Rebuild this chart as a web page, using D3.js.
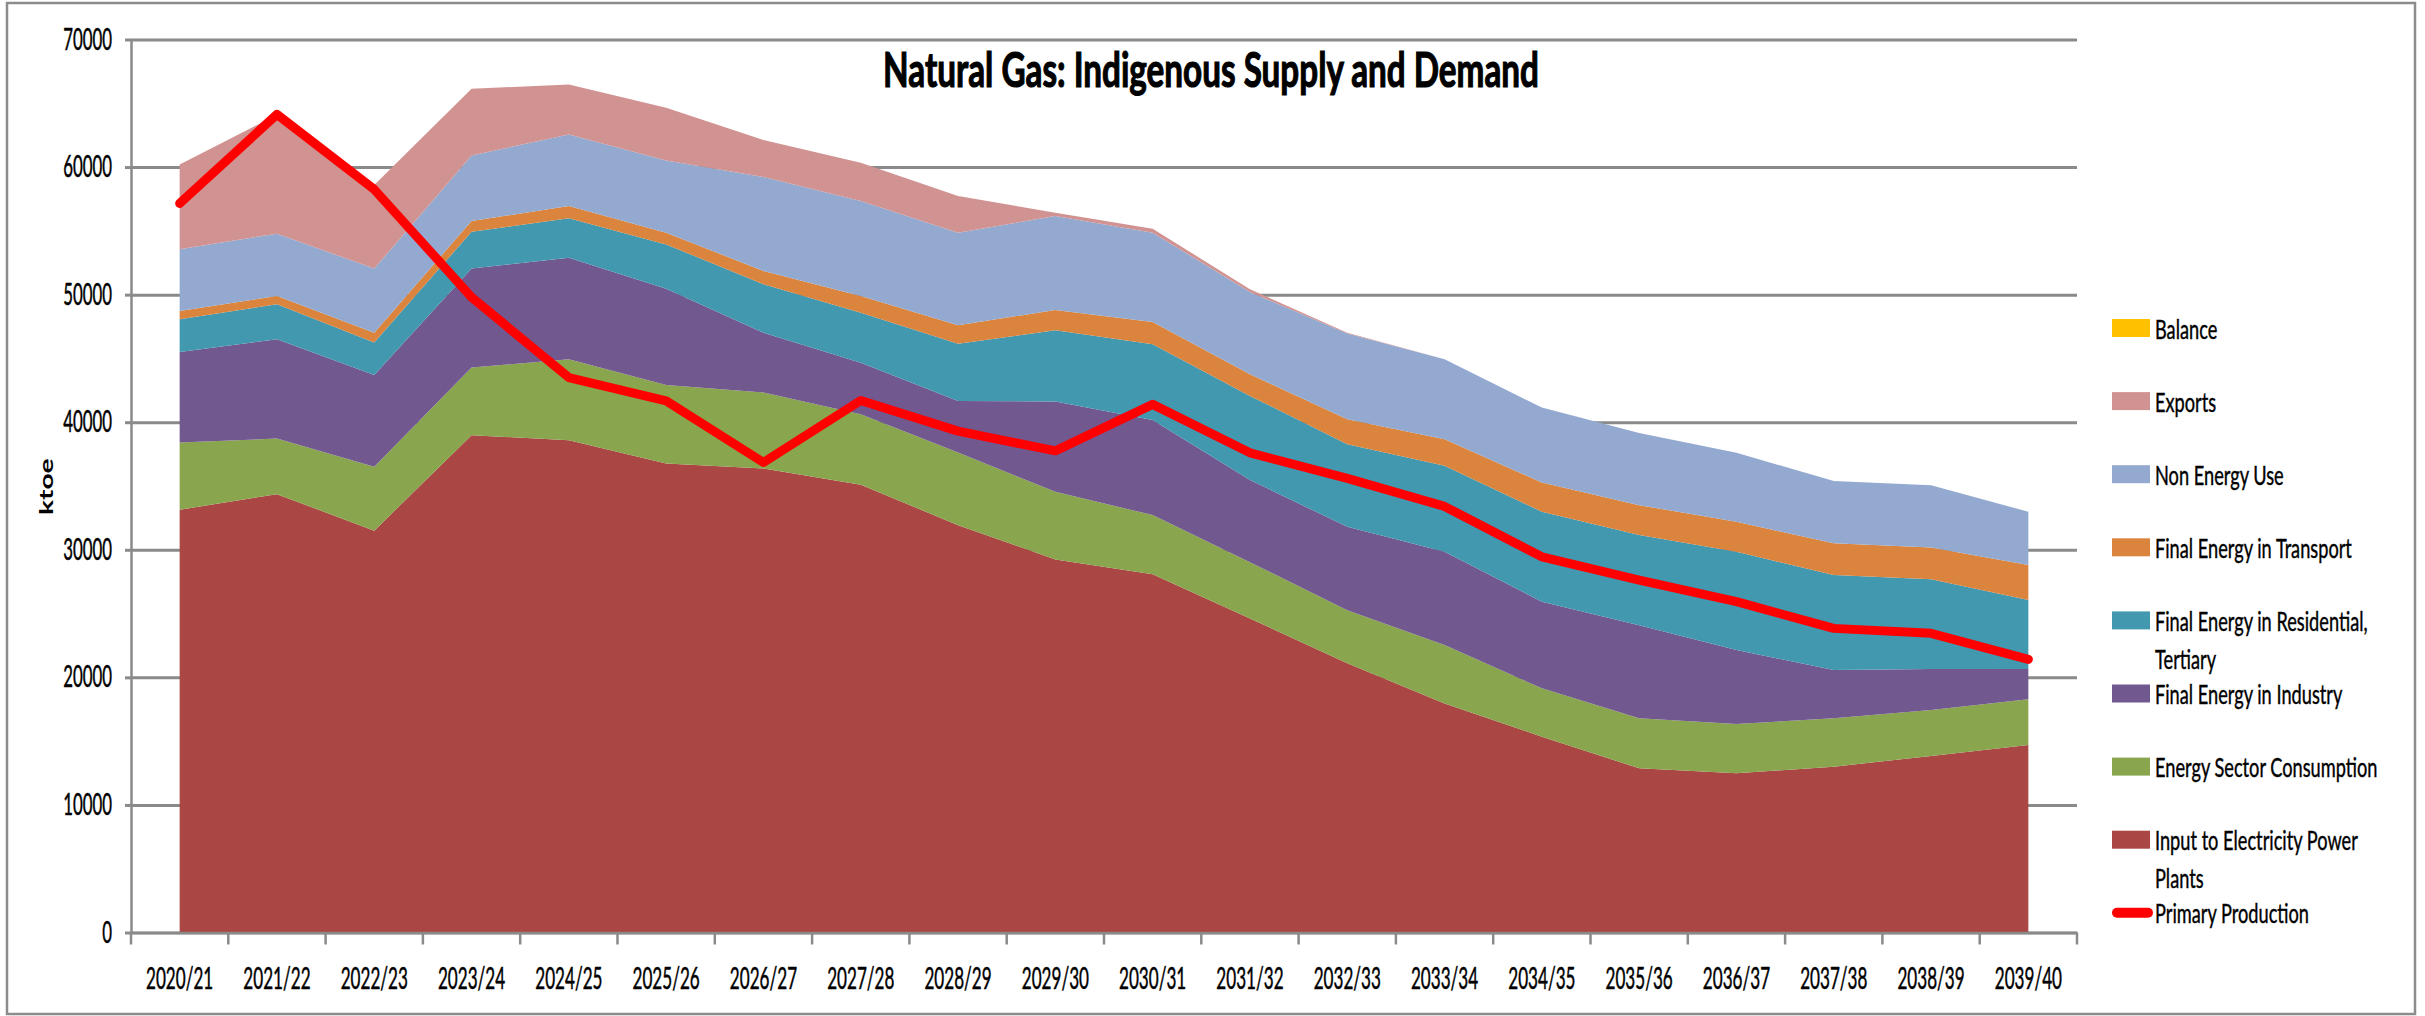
<!DOCTYPE html>
<html>
<head>
<meta charset="utf-8">
<script src="https://cdn.jsdelivr.net/npm/d3@7"></script>
<style>
  body { margin: 0; background: #fff; }
  text { font-family: Lato, "Open Sans", sans-serif; fill: #000; }
</style>
</head>
<body>
<div id="chart"></div>
<script>
// chart values (ktoe)
var categories = ["2020/21", "2021/22", "2022/23", "2023/24", "2024/25", "2025/26", "2026/27",
  "2027/28", "2028/29", "2029/30", "2030/31", "2031/32", "2032/33", "2033/34", "2034/35",
  "2035/36", "2036/37", "2037/38", "2038/39", "2039/40"];

var elecInput    = [33130, 34360, 31500, 38980, 38590, 36760, 36370, 35100, 31930, 29240, 28090, 24620, 21100, 17960, 15350, 12870, 12480, 13000, 13840, 14700];
var energySector = [5280, 4360, 5000, 5300, 6340, 6160, 5950, 5520, 5690, 5300, 4630, 4410, 4170, 4570, 3790, 3920, 3870, 3790, 3600, 3580];
var industry     = [7100, 7780, 7210, 7760, 7970, 7550, 4700, 4050, 4050, 7080, 7460, 6440, 6530, 7310, 6790, 7300, 5790, 3780, 3210, 2370];
var residential  = [2560, 2740, 2530, 2890, 3080, 3470, 3790, 3920, 4490, 5590, 5930, 6590, 6480, 6740, 7050, 7060, 7700, 7450, 7050, 5410];
var transport    = [650, 660, 780, 840, 970, 920, 1040, 1310, 1440, 1590, 1750, 1700, 1960, 2090, 2290, 2350, 2350, 2500, 2480, 2740];
var nonEnergy    = [4830, 4880, 5020, 5140, 5610, 5660, 7370, 7440, 7260, 7360, 7000, 6450, 6710, 6260, 5880, 5660, 5410, 4880, 4880, 4180];
var exportsGas   = [6660, 9320, 6560, 5220, 3920, 4130, 2900, 3000, 2870, 260, 310, 210, 70, 0, 0, 0, 0, 0, 0, 0];
var balance      = [0, 0, 0, 0, 0, 0, 0, 0, 0, 0, 0, 0, 0, 0, 0, 0, 0, 0, 0, 0];
var primaryProduction = [57150, 64130, 58250, 49800, 43500, 41670, 36840, 41700, 39300, 37750, 41400, 37600, 35600, 33400, 29450, 27620, 25930, 23840, 23450, 21410];

var yTicks = [0, 10000, 20000, 30000, 40000, 50000, 60000, 70000];

// stack order, bottom first
var seriesKeys = ["elec", "energy", "industry", "residential", "transport", "nonEnergy", "exports", "balance"];
var seriesNames = ["Input to Electricity Power Plants", "Energy Sector Consumption", "Final Energy in Industry",
  "Final Energy in Residential, Tertiary", "Final Energy in Transport", "Non Energy Use", "Exports", "Balance"];
var seriesValues = [elecInput, energySector, industry, residential, transport, nonEnergy, exportsGas, balance];
var seriesColors = ["#AA4643", "#89A54E", "#71588F", "#4198AF", "#DB843D", "#93A9CF", "#D19392", "#FFC000"];
var lineName = "Primary Production";

var svgWidth = 2425;
var svgHeight = 1016;

var margin = { top: 39.5, left: 131, right: 348, bottom: 83.5 };
var width = svgWidth - margin.left - margin.right;
var height = svgHeight - margin.top - margin.bottom;

var svg = d3.select("#chart")
  .append("svg")
  .attr("width", svgWidth)
  .attr("height", svgHeight);

// outer chart frame
svg.append("rect")
  .attr("x", 7).attr("y", 3)
  .attr("width", 2408).attr("height", 1011)
  .attr("fill", "none")
  .attr("stroke", "#8c8c8c")
  .attr("stroke-width", 2.5);

var chartGroup = svg.append("g")
  .attr("transform", `translate(${margin.left}, ${margin.top})`);

// table for the stack
var table = categories.map(function(c, i) {
  var row = { cat: c };
  seriesKeys.forEach(function(k, j) { row[k] = seriesValues[j][i]; });
  return row;
});

var xBand = d3.scaleBand().domain(categories).range([0, width]);
var xMid = d => xBand(d) + xBand.bandwidth() / 2;
var y = d3.scaleLinear().domain([0, 70000]).range([height, 0]);

// squeeze text horizontally like the original
function squish(sel, sx, dx, dy) {
  sel.attr("x", 0).attr("y", 0)
    .attr("transform", `translate(${dx}, ${dy}) scale(${sx}, 1)`);
}

// gridlines
var grid = chartGroup.append("g")
  .call(d3.axisLeft(y).tickValues(yTicks).tickSize(-width).tickFormat(""));
grid.select(".domain").remove();
grid.selectAll("line").attr("stroke", "#8a8a8a").attr("stroke-width", 3);

// areas
var stacked = d3.stack().keys(seriesKeys)(table);
var area = d3.area()
  .x(d => xMid(d.data.cat))
  .y0(d => y(d[0]))
  .y1(d => y(d[1]));

chartGroup.append("g").selectAll("path")
  .data(stacked)
  .enter()
  .append("path")
  .attr("d", area)
  .attr("fill", (d, i) => seriesColors[i]);

// primary production line
var line = d3.line()
  .x((d, i) => xMid(categories[i]))
  .y(d => y(d));

chartGroup.append("path")
  .datum(primaryProduction)
  .attr("d", line)
  .attr("fill", "none")
  .attr("stroke", "#FF0000")
  .attr("stroke-width", 9)
  .attr("stroke-linejoin", "round")
  .attr("stroke-linecap", "round");

// y axis
var yAxis = chartGroup.append("g")
  .call(d3.axisLeft(y).tickValues(yTicks).tickSize(6).tickSizeOuter(0).tickFormat(d3.format("d")));
yAxis.select(".domain").attr("stroke", "#8a8a8a").attr("stroke-width", 2.5);
yAxis.selectAll("line").attr("stroke", "#8a8a8a").attr("stroke-width", 3);
yAxis.selectAll("text")
  .attr("font-size", 30)
  .attr("font-family", "Lato, sans-serif")
  .attr("fill", "#000")
  .attr("stroke", "#000").attr("stroke-width", 0.5)
  .each(function() { squish(d3.select(this), 0.56, -19, 0); });

// x axis
var xAxis = chartGroup.append("g")
  .attr("transform", `translate(0, ${height})`)
  .call(d3.axisBottom(xBand).tickSize(0).tickSizeOuter(0));
xAxis.select(".domain").attr("stroke", "#8a8a8a").attr("stroke-width", 2.5);
xAxis.selectAll("text")
  .attr("font-size", 30)
  .attr("font-family", "Lato, sans-serif")
  .attr("fill", "#000")
  .attr("stroke", "#000").attr("stroke-width", 0.5)
  .attr("dy", null)
  .each(function() { squish(d3.select(this), 0.57, 0, 56); });

// tick marks between categories
xAxis.append("g").selectAll("line")
  .data(d3.range(categories.length + 1))
  .enter()
  .append("line")
  .attr("x1", i => i * xBand.step())
  .attr("x2", i => i * xBand.step())
  .attr("y1", 0)
  .attr("y2", 12)
  .attr("stroke", "#8a8a8a")
  .attr("stroke-width", 2.5);

// axis label
var yLabel = svg.append("text")
  .attr("text-anchor", "middle")
  .attr("font-size", 19)
  .attr("font-weight", "bold")
  .text("ktoe");
var yLen = yLabel.node().getComputedTextLength();
yLabel.attr("transform", `translate(52.5, 486.7) rotate(-90) scale(${56.7 / yLen}, 1)`);

// title
var title = svg.append("text")
  .attr("text-anchor", "middle")
  .attr("font-size", 48.5)
  .attr("font-weight", "bold")
  .attr("stroke", "#000")
  .attr("stroke-width", 1.2)
  .text("Natural Gas: Indigenous Supply and Demand");
var tLen = title.node().getComputedTextLength();
title.attr("transform", `translate(1211, 86.7) scale(${656 / tLen}, 1)`);

// legend
var legendItems = seriesNames.map((n, i) => ({ name: n, color: seriesColors[i], isLine: false })).reverse();
legendItems.push({ name: lineName, color: "#FF0000", isLine: true });
var wraps = {
  "Final Energy in Residential, Tertiary": ["Final Energy in Residential,", "Tertiary"],
  "Input to Electricity Power Plants": ["Input to Electricity Power", "Plants"]
};

var legend = svg.append("g").attr("transform", "translate(2112, 328)");
legendItems.forEach(function(item, i) {
  var g = legend.append("g").attr("transform", `translate(0, ${i * 73.1})`);
  if (item.isLine) {
    g.append("line")
      .attr("x1", 5).attr("x2", 36)
      .attr("y1", 0).attr("y2", 0)
      .attr("stroke", item.color)
      .attr("stroke-width", 10)
      .attr("stroke-linecap", "round");
  } else {
    g.append("rect")
      .attr("x", 0).attr("y", -9)
      .attr("width", 38).attr("height", 18)
      .attr("fill", item.color);
  }
  var lines = wraps[item.name] || [item.name];
  lines.forEach(function(t, k) {
    g.append("text")
      .attr("font-size", 26)
      .attr("stroke", "#000")
      .attr("stroke-width", 0.4)
      .text(t)
      .call(squish, 0.7, 43, 10.5 + k * 38);
  });
});
</script>
</body>
</html>
